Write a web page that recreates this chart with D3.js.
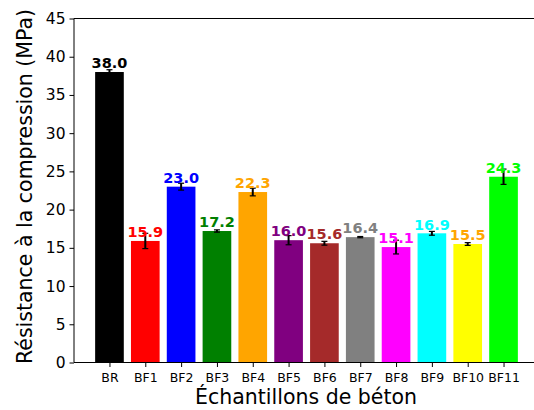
<!DOCTYPE html>
<html>
<head>
<meta charset="utf-8">
<script src="https://cdn.jsdelivr.net/npm/d3@7"></script>
<style>
  body { margin: 0; background: #fff; }
  svg { display: block; font-family: "DejaVu Sans", sans-serif; }
</style>
</head>
<body>
<svg id="chart" width="534" height="410"></svg>
<script>
const categories = ["BR", "BF1", "BF2", "BF3", "BF4", "BF5", "BF6", "BF7", "BF8", "BF9", "BF10", "BF11"];
const values = [38.0, 15.9, 23.0, 17.2, 22.3, 16.0, 15.6, 16.4, 15.1, 16.9, 15.5, 24.3];
const errors = [0.3, 1.0, 0.45, 0.15, 0.5, 0.6, 0.25, 0.08, 0.9, 0.25, 0.18, 1.0];
const barColors = ["#000000", "#ff0000", "#0000ff", "#008000", "#ffa500", "#800080", "#a52a2a", "#808080", "#ff00ff", "#00ffff", "#ffff00", "#00ff00"];
const labelColors = ["#000000", "#ff0000", "#0000ff", "#008000", "#ffa500", "#800080", "#a52a2a", "#808080", "#ff00ff", "#00ffff", "#ffa500", "#00ff00"];
const yTicks = [0, 5, 10, 15, 20, 25, 30, 35, 40, 45];

const svg = d3.select("#chart");
const pL = 74, pR = 539, pT = 18.5, pB = 362.5;

const x = d3.scaleLinear().domain([-0.99, 11.99]).range([pL, pR]);
const y = d3.scaleLinear().domain([0, 45]).range([pB, pT]);
const step = x(1) - x(0);
const barW = step * 0.8;

// bars
svg.append("g").selectAll("rect").data(values).join("rect")
  .attr("x", (d, i) => x(i) - barW / 2)
  .attr("y", d => y(d))
  .attr("width", barW)
  .attr("height", d => y(0) - y(d))
  .attr("fill", (d, i) => barColors[i]);

// error bars
const eg = svg.append("g").attr("stroke", "#000");
values.forEach((v, i) => {
  const cx = x(i);
  eg.append("line").attr("x1", cx).attr("x2", cx)
    .attr("y1", y(v - errors[i])).attr("y2", y(v + errors[i])).attr("stroke-width", 2);
  [v - errors[i], v + errors[i]].forEach(e => {
    eg.append("line").attr("x1", cx - 3).attr("x2", cx + 3)
      .attr("y1", y(e)).attr("y2", y(e)).attr("stroke-width", 1.2);
  });
});

// value labels
svg.append("g").selectAll("text").data(values).join("text")
  .attr("x", (d, i) => x(i))
  .attr("y", d => y(d) - 3.8)
  .attr("text-anchor", "middle")
  .attr("font-size", "14.5px")
  .attr("font-weight", "bold")
  .attr("fill", (d, i) => labelColors[i])
  .text(d => d.toFixed(1));

// axes
const yAxis = svg.append("g").attr("transform", `translate(${pL},0)`)
  .call(d3.axisLeft(y).tickValues(yTicks).tickSize(4.5).tickPadding(4).tickFormat(d3.format("d")));
yAxis.selectAll("text").attr("font-size", "15.5px").attr("fill", "#000").attr("font-family", "DejaVu Sans");
yAxis.select(".domain").attr("stroke", "#000").attr("d", `M0,${pB}V${pT}`);
yAxis.selectAll(".tick line").attr("stroke", "#000");

const xAxis = svg.append("g").attr("transform", `translate(0,${pB})`)
  .call(d3.axisBottom(x).tickValues(d3.range(categories.length)).tickSize(4.5).tickPadding(6)
    .tickFormat(i => categories[i]));
xAxis.selectAll("text").attr("font-size", "12.5px").attr("fill", "#000").attr("font-family", "DejaVu Sans");
xAxis.select(".domain").attr("stroke", "#000").attr("d", `M${pL},0H${pR}`);
xAxis.selectAll(".tick line").attr("stroke", "#000");

// top and right spines
svg.append("line").attr("x1", pL).attr("x2", pR).attr("y1", pT).attr("y2", pT).attr("stroke", "#000");
svg.append("line").attr("x1", pR).attr("x2", pR).attr("y1", pT).attr("y2", pB).attr("stroke", "#000");

// axis titles
svg.append("text")
  .attr("x", 306).attr("y", 404)
  .attr("text-anchor", "middle").attr("font-size", "20.5px").attr("fill", "#000")
  .text("Échantillons de béton");

svg.append("text")
  .attr("transform", `translate(32,${(pT + pB) / 2 - 4}) rotate(-90)`)
  .attr("text-anchor", "middle").attr("font-size", "20.5px").attr("fill", "#000")
  .text("Résistance à la compression (MPa)");
</script>
</body>
</html>
